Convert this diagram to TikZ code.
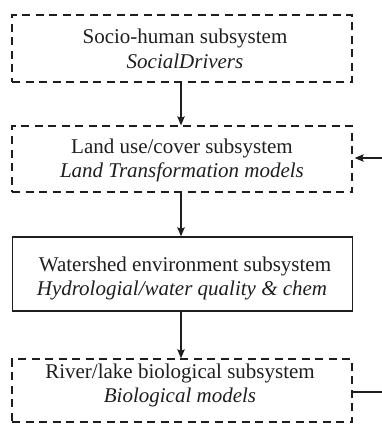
\documentclass[tikz,border=0pt]{standalone}
\usepackage{fontspec}
\setmainfont{Liberation Serif}
\usetikzlibrary{arrows.meta}
\definecolor{ink}{HTML}{1E1E1E}
\tikzset{
  x=1pt, y=1pt,
  boxbase/.style={rectangle, draw=ink, minimum width=340pt, inner sep=0pt},
  dashbox/.style={boxbase, line width=1.3pt, dash pattern=on 8pt off 5.5pt},
  solidbox/.style={boxbase, line width=1.4pt},
  txt/.style={anchor=base, text=ink, inner sep=0pt, font=\fontsize{21}{25}\selectfont},
  conn/.style={draw=ink, line width=1.1pt, -{Stealth[length=9pt,width=7.5pt,inset=1.5pt]}},
  plainconn/.style={draw=ink, line width=1.1pt}
}
\begin{document}
\begin{tikzpicture}
\useasboundingbox (0,0) rectangle (382,-425);
\clip (0,0) rectangle (382,-425);
% boxes
\node[dashbox, minimum height=67pt] (b1) at (182,-48.5) {};
\node[dashbox, minimum height=66pt] (b2) at (182,-159) {};
\node[solidbox, minimum height=74pt] (b3) at (182.5,-274) {};
\node[dashbox, minimum height=63pt] (b4) at (182,-390.5) {};
% texts
\node[txt] (t1a) at (185,-44) {Socio-human subsystem};
\node[txt] (t1b) at (185,-68.5) {\itshape SocialDrivers};
\node[txt] (t2a) at (182,-153) {Land use/cover subsystem};
\node[txt] (t2b) at (182,-177.5) {\itshape Land Transformation models};
\node[txt] (t3a) at (185,-271.5) {Watershed environment subsystem};
\node[txt] (t3b) at (182,-295.5) {\itshape Hydrologial/water quality \& chem};
\node[txt] (t4a) at (180,-378) {River/lake biological subsystem};
\node[txt] (t4b) at (180,-402.5) {\itshape Biological models};
% connectors
\draw[conn] ([xshift=-1pt]b1.south) -- ([xshift=-1pt]b2.north);
\draw[conn] ([xshift=-1pt]b2.south) -- ([xshift=-1.5pt]b3.north);
\draw[conn] ([xshift=-1.5pt]b3.south) -- ([xshift=-1pt]b4.north);
\coordinate (fb1) at (400,-392);
\coordinate (fb2) at (400,-158);
\draw[plainconn] ([yshift=-1.5pt]b4.east) -- (fb1) -- (fb2);
\draw[conn] (fb2) -- ([xshift=2pt,yshift=1pt]b2.east);
\end{tikzpicture}
\end{document}
